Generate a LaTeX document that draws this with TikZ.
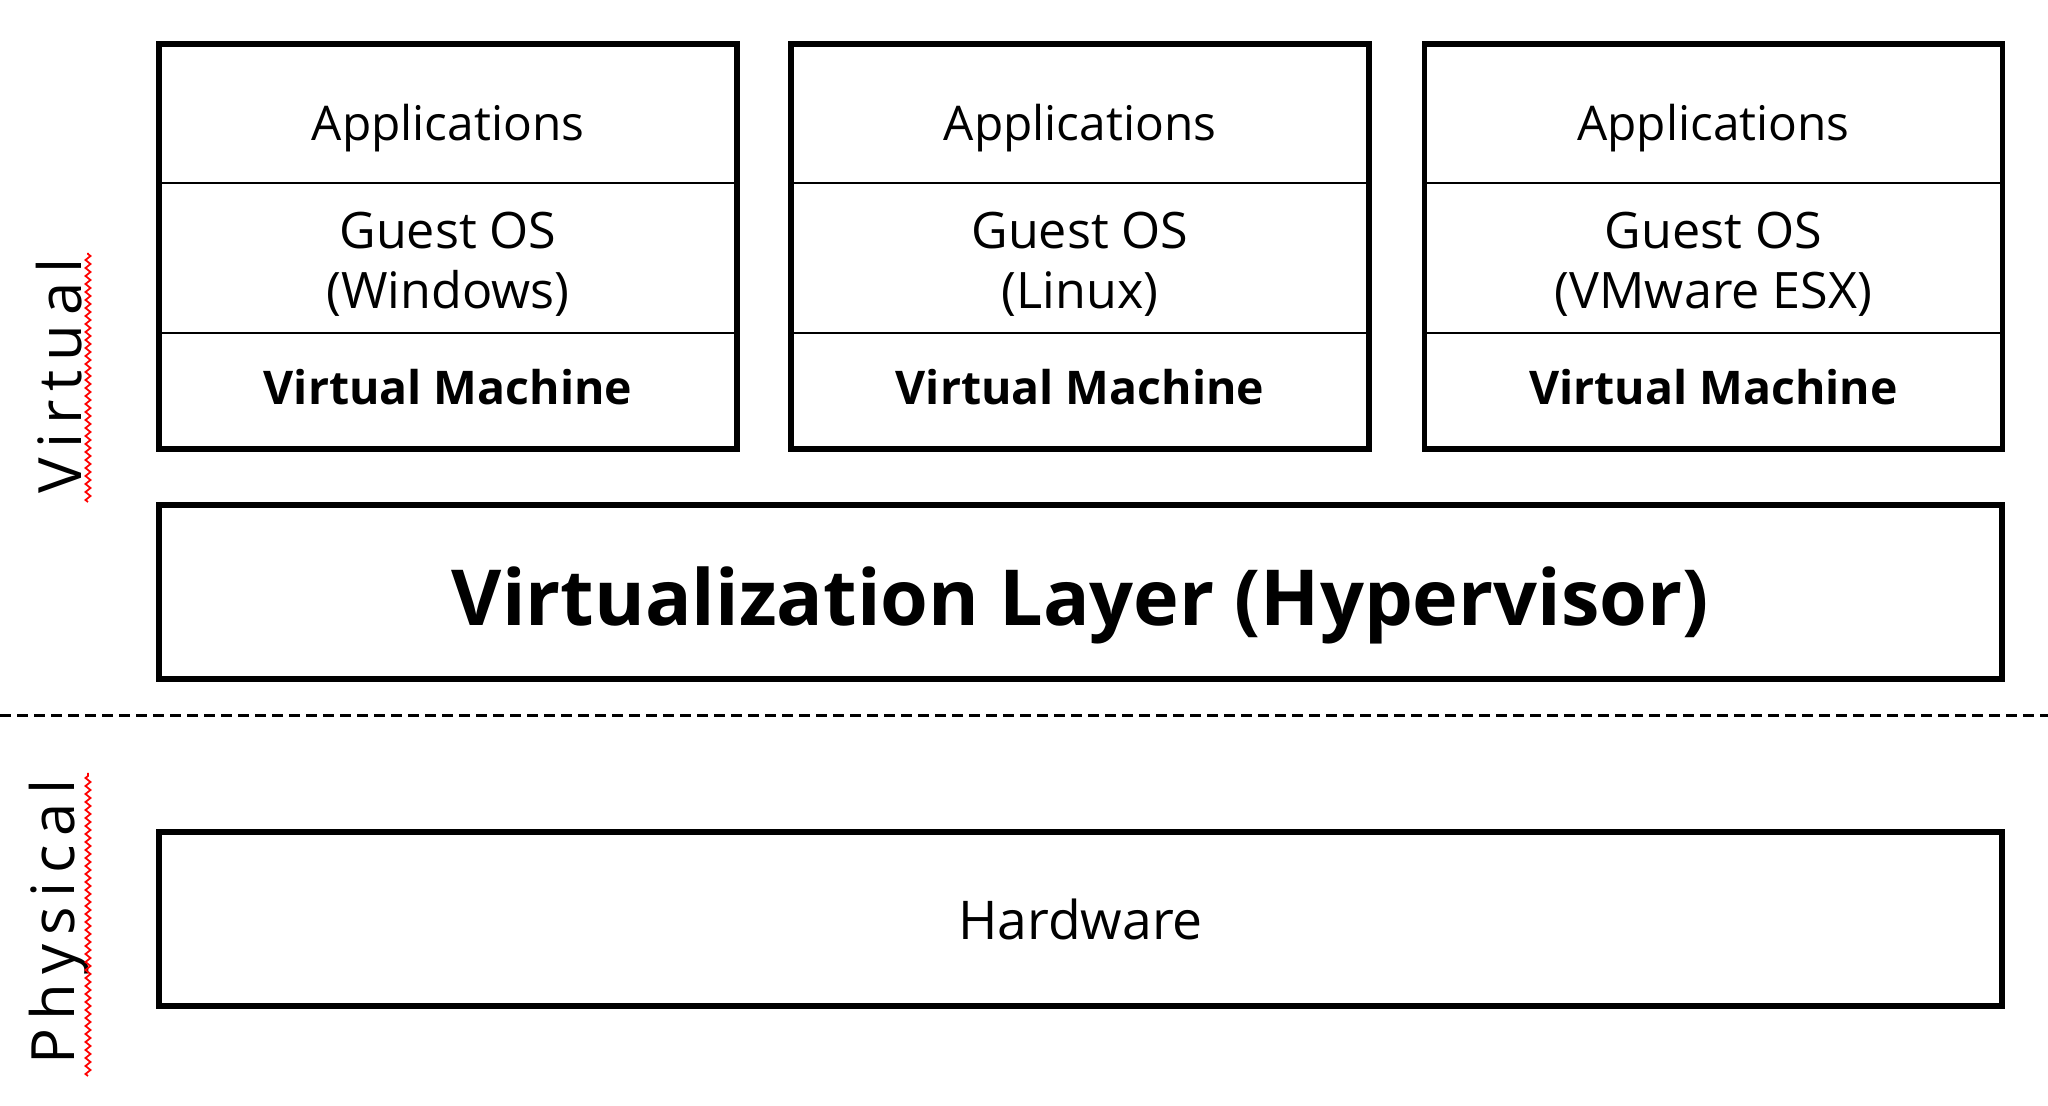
\documentclass[tikz,border=0pt]{standalone}
\usepackage{fontspec}
\setmainfont{Open Sans}
\usetikzlibrary{positioning, fit, decorations.pathmorphing}

\begin{document}
\begin{tikzpicture}[
      cell/.style={draw, line width=0.7pt, inner sep=0pt, outer sep=0pt,
        minimum width=5.78cm},
      apptext/.style={font=\fontsize{13.6}{17}\selectfont},
      ostext/.style={align=center, font=\fontsize{14.3}{17}\selectfont},
      vmtext/.style={font=\fontsize{13.2}{17}\selectfont\bfseries},
      vmbox/.style={draw, line width=1.6pt, inner sep=0pt},
      layerbox/.style={draw, line width=1.6pt, inner sep=0pt,
        minimum width=18.43cm, minimum height=1.74cm},
      sidelabel/.style={rotate=90,
        font=\fontsize{17}{17}\selectfont\addfontfeatures{LetterSpace=15}},
      squiggle/.style={red, line width=0.5pt, decorate,
        decoration={zigzag, segment length=0.8mm, amplitude=0.25mm}}
    ]
      \useasboundingbox (0,0) rectangle (20.48,11.06);
      % first virtual machine
      \node[cell, minimum height=1.39cm] (app1) at (4.48,9.925) {};
      \node[cell, minimum height=1.50cm, below=0pt of app1] (os1) {};
      \node[cell, minimum height=1.16cm, below=0pt of os1] (vm1) {};
      \node[vmbox, fit=(app1)(vm1)] (box1) {};
      \node[apptext] (app1t) at ([yshift=-1.5mm]app1) {Applications};
      \node[ostext] (os1t) at ([yshift=-0.6mm]os1) {Guest OS\\(Windows)};
      \node[vmtext] (vm1t) at ([yshift=0.4mm]vm1) {Virtual Machine};
      % second virtual machine
      \node[cell, minimum height=1.39cm] (app2) at (10.80,9.925) {};
      \node[cell, minimum height=1.50cm, below=0pt of app2] (os2) {};
      \node[cell, minimum height=1.16cm, below=0pt of os2] (vm2) {};
      \node[vmbox, fit=(app2)(vm2)] (box2) {};
      \node[apptext] (app2t) at ([yshift=-1.5mm]app2) {Applications};
      \node[ostext] (os2t) at ([yshift=-0.6mm]os2) {Guest OS\\(Linux)};
      \node[vmtext] (vm2t) at ([yshift=0.4mm]vm2) {Virtual Machine};
      % third virtual machine
      \node[cell, minimum height=1.39cm] (app3) at (17.135,9.925) {};
      \node[cell, minimum height=1.50cm, below=0pt of app3] (os3) {};
      \node[cell, minimum height=1.16cm, below=0pt of os3] (vm3) {};
      \node[vmbox, fit=(app3)(vm3)] (box3) {};
      \node[apptext] (app3t) at ([yshift=-1.5mm]app3) {Applications};
      \node[ostext] (os3t) at ([yshift=-0.6mm]os3) {Guest OS\\(VMware ESX)};
      \node[vmtext] (vm3t) at ([yshift=0.4mm]vm3) {Virtual Machine};
      % hypervisor and hardware
      \node[layerbox] (hyper) at (10.805,5.14) {};
      \node[font=\fontsize{22}{22}\selectfont\bfseries] (hypert) at ([yshift=-1.3mm]hyper)
        {Virtualization Layer (Hypervisor)};
      \node[layerbox] (hw) at (10.805,1.87) {};
      \node[font=\fontsize{15.2}{17}\selectfont] (hwt) at (hw) {Hardware};
      % virtual / physical split
      \coordinate (sepL) at (0,3.90);
      \coordinate (sepR) at (20.48,3.90);
      \draw[line width=0.85pt, dash pattern=on 1.1mm off 0.6mm] (sepL) -- (sepR);
      \node[sidelabel] (virt) at (0.59,7.30) {Virtual};
      \node[sidelabel] (phys) at (0.59,1.84) {Physical};
      \coordinate (sqV1) at (0.88,6.04);
      \coordinate (sqV2) at (0.88,8.53);
      \coordinate (sqP1) at (0.88,0.30);
      \coordinate (sqP2) at (0.88,3.33);
      \draw[squiggle] (sqV1) -- (sqV2);
      \draw[squiggle] (sqP1) -- (sqP2);
    \end{tikzpicture}
\end{document}
